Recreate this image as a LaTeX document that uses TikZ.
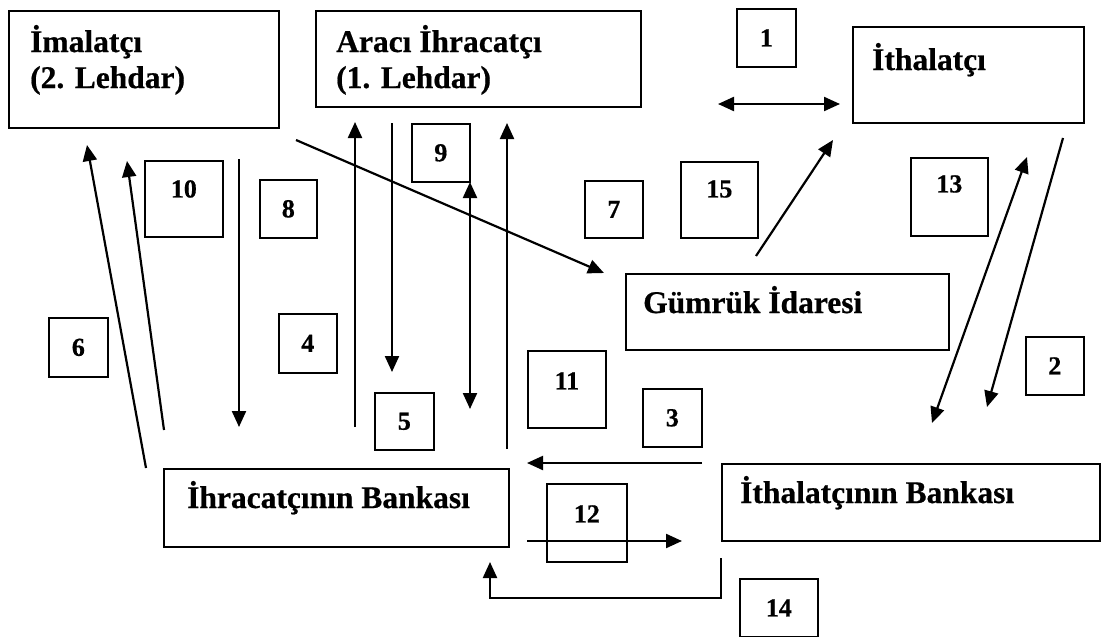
\documentclass[tikz,border=0pt]{standalone}
\usepackage{fontspec}
\setmainfont{Liberation Serif}[BoldFeatures={FakeBold=0.6}]
\usetikzlibrary{arrows.meta}
\begin{document}
\begin{tikzpicture}[x=1pt,y=-1pt,
  bigbox/.style={draw, line width=1.8pt, anchor=north west, inner sep=0pt},
  numbox/.style={draw, line width=1.7pt, anchor=north west, inner sep=0pt, font=\fontsize{26}{26}\selectfont\bfseries},
  lbl/.style={anchor=base west, inner sep=0pt, font=\fontsize{31.5}{37}\selectfont\bfseries},
  arr/.style={line width=2.2pt, -{Triangle[length=16pt,width=14pt]}},
  darr/.style={line width=2.2pt, {Triangle[length=16pt,width=14pt]}-{Triangle[length=16pt,width=14pt]}},
]
\useasboundingbox (0,0) rectangle (1104,637);

% main boxes
\node[bigbox, minimum width=270pt, minimum height=117pt] (imal) at (8,10) {};
\node[bigbox, minimum width=325pt, minimum height=96pt] (araci) at (315,10) {};
\node[bigbox, minimum width=231pt, minimum height=96pt] (ithal) at (852,26) {};
\node[bigbox, minimum width=323pt, minimum height=76pt] (gumruk) at (625,273) {};
\node[bigbox, minimum width=345pt, minimum height=78pt] (ihbank) at (163,468) {};
\node[bigbox, minimum width=378pt, minimum height=77pt] (itbank) at (721,463) {};

% texts
\node[lbl] (imalT1) at (30,52) {İmalatçı};
\node[lbl] (imalT2) at (30,88) {(2. Lehdar)};
\node[lbl] (araciT1) at (336,52) {Aracı İhracatçı};
\node[lbl] (araciT2) at (336,88) {(1. Lehdar)};
\node[lbl] (ithalT) at (872,70) {İthalatçı};
\node[lbl] (gumrukT) at (643,313) {Gümrük İdaresi};
\node[lbl] (ihbankT) at (187,508) {İhracatçının Bankası};
\node[lbl] (itbankT) at (740,503) {İthalatçının Bankası};

% number boxes
\node[numbox, minimum width=59pt, minimum height=58pt] (n1) at (736,8) {1};
\node[numbox, minimum width=58pt, minimum height=58pt] (n2) at (1025,336) {2};
\node[numbox, minimum width=59pt, minimum height=58pt] (n3) at (642,388) {3};
\node[numbox, minimum width=58pt, minimum height=59pt] (n4) at (278,313) {4};
\node[numbox, minimum width=59pt, minimum height=57pt] (n5) at (374,392) {5};
\node[numbox, minimum width=59pt, minimum height=59pt] (n6) at (48,317) {6};
\node[numbox, minimum width=58pt, minimum height=57pt] (n7) at (584,180) {7};
\node[numbox, minimum width=57pt, minimum height=58pt] (n8) at (259,179) {8};
\node[numbox, minimum width=58pt, minimum height=58pt] (n9) at (411,123) {9};
\node[numbox, minimum width=78pt, minimum height=76pt, text depth=20pt] (n10) at (144,160) {10};
\node[numbox, minimum width=78pt, minimum height=77pt, text depth=17pt] (n11) at (527,350) {11};
\node[numbox, minimum width=80pt, minimum height=78pt, text depth=18pt] (n12) at (546,483) {12};
\node[numbox, minimum width=77pt, minimum height=78pt, text depth=26pt] (n13) at (910,157) {13};
\node[numbox, minimum width=78pt, minimum height=58pt] (n14) at (739,578) {14};
\node[numbox, minimum width=77pt, minimum height=76pt, text depth=22pt] (n15) at (680,161) {15};

% arrow end points
\coordinate (a1s) at (718,104);  \coordinate (a1e) at (840,104);
\coordinate (a2s) at (1063,138); \coordinate (a2e) at (987,407);
\coordinate (a3s) at (702,463);  \coordinate (a3e) at (527,463);
\coordinate (a4s) at (355,427);  \coordinate (a4e) at (355,122);
\coordinate (a5s) at (392,123);  \coordinate (a5e) at (392,372);
\coordinate (a6s) at (146,468);  \coordinate (a6e) at (87,145);
\coordinate (a7s) at (296,140);  \coordinate (a7e) at (604,273);
\coordinate (a8s) at (239,159);  \coordinate (a8e) at (239,427);
\coordinate (a9s) at (470,182);  \coordinate (a9e) at (470,409);
\coordinate (a10s) at (164,430); \coordinate (a10e) at (127,161);
\coordinate (a11s) at (507,449); \coordinate (a11e) at (507,123);
\coordinate (a12s) at (527,541); \coordinate (a12e) at (682,541);
\coordinate (a13s) at (1027,157);\coordinate (a13e) at (932,423);
\coordinate (a14s) at (721,558); \coordinate (a14a) at (721,598);
\coordinate (a14b) at (490,598); \coordinate (a14e) at (490,562);
\coordinate (a15s) at (756,256); \coordinate (a15e) at (833,140);

% arrows
\draw[darr] (a1s) -- (a1e);
\draw[arr] (a2s) -- (a2e);
\draw[arr] (a3s) -- (a3e);
\draw[arr] (a4s) -- (a4e);
\draw[arr] (a5s) -- (a5e);
\draw[arr] (a6s) -- (a6e);
\draw[arr] (a7s) -- (a7e);
\draw[arr] (a8s) -- (a8e);
\draw[darr] (a9s) -- (a9e);
\draw[arr] (a10s) -- (a10e);
\draw[arr] (a11s) -- (a11e);
\draw[arr] (a12s) -- (a12e);
\draw[darr] (a13s) -- (a13e);
\draw[arr] (a14s) -- (a14a) -- (a14b) -- (a14e);
\draw[arr] (a15s) -- (a15e);
\end{tikzpicture}
\end{document}
